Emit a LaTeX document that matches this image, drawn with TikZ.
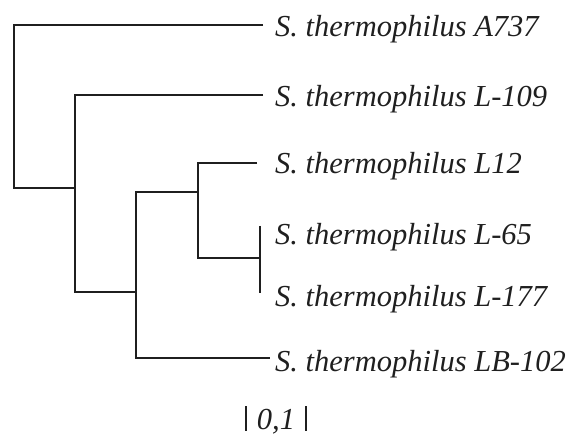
\documentclass[tikz,border=0pt]{standalone}
\usepackage{fontspec}
\setmainfont{Liberation Serif}
\begin{document}
\begin{tikzpicture}[x=1pt,y=-1pt,
  branch/.style={line width=2.6pt,line cap=butt,color=black!88},
  leaf/.style={anchor=base west,inner sep=0pt,font=\fontsize{30.5}{34}\selectfont\itshape,text=black!88}]
\useasboundingbox (0,0) rectangle (572,435);
% internal nodes
\coordinate (root) at (14,188);
\coordinate (n1) at (75,292);
\coordinate (n2) at (136,192);
\coordinate (n3) at (198,163);
\coordinate (n4) at (260,258);
% tips
\coordinate (tA) at (263,25);
\coordinate (tB) at (263,95);
\coordinate (tC) at (257,163);
\coordinate (tD) at (260,226);
\coordinate (tE) at (260,293);
\coordinate (tF) at (270,358);
% labels
\node[leaf] (lA) at (275,37) {S. thermophilus A737};
\node[leaf] (lB) at (275,107) {S. thermophilus L-109};
\node[leaf] (lC) at (275,174) {S. thermophilus L12};
\node[leaf] (lD) at (275,245) {S. thermophilus L-65};
\node[leaf] (lE) at (275,306) {S. thermophilus L-177};
\node[leaf] (lF) at (275,371) {S. thermophilus LB-102};
% branches
\draw[branch] (tA) -| (root) -- (n1 |- root);
\draw[branch] (tB) -| (n1) -- (n2 |- n1);
\draw[branch] (n3 |- n2) -| (n2) |- (tF);
\draw[branch] (tC) -| (n3) |- (n4);
\draw[branch] (tD) -- (tE);
% scale bar
\coordinate (s1a) at (246,406);
\coordinate (s1b) at (246,431);
\coordinate (s2a) at (306,406);
\coordinate (s2b) at (306,431);
\draw[branch] (s1a) -- (s1b);
\draw[branch] (s2a) -- (s2b);
\node[leaf,anchor=base] (sc) at (276,429) {0,1};
\end{tikzpicture}
\end{document}
